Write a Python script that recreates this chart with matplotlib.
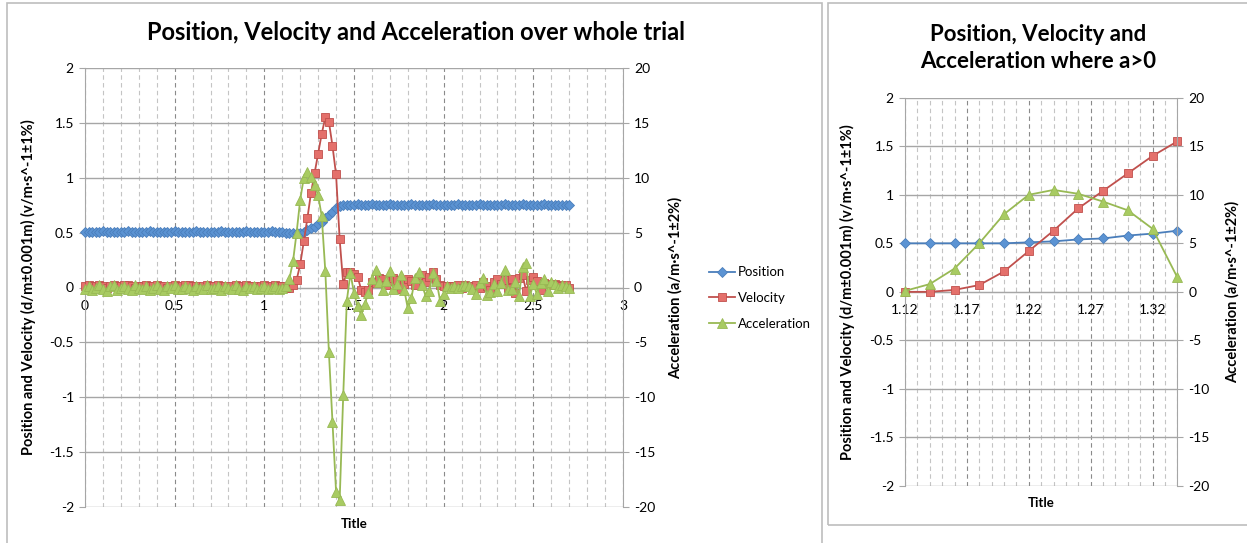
import numpy as np
import matplotlib
matplotlib.use("Agg")
from matplotlib import pyplot as plt
from matplotlib.ticker import FixedLocator, FuncFormatter
from matplotlib.patches import Rectangle

plt.rcParams['font.family'] = ['Lato', 'DejaVu Sans']
plt.rcParams['axes.unicode_minus'] = False

# sample times, 0.02 s apart
t = np.round(np.arange(136) * 0.02, 2)

# before launch, t = 0 .. 1.10
pos_rest = [0.51, 0.51, 0.505, 0.51, 0.51, 0.515, 0.51, 0.51, 0.505, 0.51,
            0.51, 0.51, 0.515, 0.51, 0.505, 0.51, 0.51, 0.51, 0.515, 0.51,
            0.51, 0.505, 0.51, 0.51, 0.51, 0.515, 0.51, 0.51, 0.505, 0.51,
            0.51, 0.515, 0.51, 0.51, 0.51, 0.505, 0.51, 0.51, 0.515, 0.51,
            0.51, 0.51, 0.505, 0.51, 0.51, 0.515, 0.51, 0.51, 0.51, 0.505,
            0.51, 0.51, 0.515, 0.51, 0.51, 0.51]
vel_rest = [0.01, 0.02, 0.01, 0.01, 0.02, 0.01, 0.00, 0.01, 0.02, 0.01,
            0.01, 0.02, 0.02, 0.01, 0.00, 0.01, 0.01, 0.02, 0.01, 0.01,
            0.02, 0.01, 0.01, 0.00, 0.01, 0.02, 0.01, 0.01, 0.02, 0.02,
            0.01, 0.01, 0.00, 0.01, 0.02, 0.01, 0.01, 0.02, 0.01, 0.01,
            0.00, 0.01, 0.02, 0.01, 0.01, 0.02, 0.01, 0.01, 0.00, 0.01,
            0.02, 0.01, 0.01, 0.02, 0.01, 0.01]
acc_rest = [-0.1, 0.1, -0.2, 0.0, 0.2, -0.1, -0.3, 0.1, 0.2, -0.2,
            0.0, 0.1, -0.1, -0.2, 0.2, 0.0, -0.1, 0.1, -0.2, 0.0,
            0.2, -0.1, -0.2, 0.1, 0.0, 0.2, -0.1, -0.1, 0.1, 0.0,
            -0.2, 0.1, 0.0, -0.1, 0.2, -0.1, 0.0, 0.1, -0.2, 0.1,
            0.0, -0.1, 0.2, -0.1, -0.2, 0.1, 0.0, 0.1, -0.1, 0.0,
            0.1, -0.1, 0.0, 0.1, -0.1, 0.0]

# the push, t = 1.12 .. 1.44
pos_push = [0.50, 0.50, 0.50, 0.50, 0.50, 0.51, 0.52, 0.54, 0.55, 0.58,
            0.60, 0.63, 0.66, 0.69, 0.72, 0.745, 0.75]
vel_push = [0.00, 0.00, 0.02, 0.07, 0.21, 0.42, 0.63, 0.86, 1.04, 1.22,
            1.40, 1.55, 1.51, 1.29, 1.03, 0.44, 0.03]
acc_push = [0.1, 0.8, 2.4, 5.0, 8.0, 10.0, 10.5, 10.1, 9.3, 8.4,
            6.5, 1.5, -5.9, -12.3, -18.6, -19.4, -9.8]

# after the push, t = 1.46 .. 2.70
pos_after = [0.75, 0.75, 0.755, 0.76, 0.755, 0.75, 0.755, 0.76, 0.755, 0.755,
             0.75, 0.755, 0.76, 0.755, 0.755, 0.75, 0.755, 0.755, 0.76, 0.755,
             0.755, 0.75, 0.755, 0.755, 0.76, 0.755, 0.755, 0.75, 0.755, 0.755,
             0.755, 0.76, 0.755, 0.755, 0.75, 0.755, 0.755, 0.76, 0.755, 0.755,
             0.75, 0.755, 0.755, 0.755, 0.76, 0.755, 0.75, 0.755, 0.755, 0.76,
             0.755, 0.755, 0.75, 0.755, 0.755, 0.76, 0.755, 0.755, 0.755, 0.75,
             0.755, 0.755, 0.755]
vel_after = [0.14, 0.14, 0.12, 0.10, -0.02, -0.04, -0.02, 0.05, 0.04, 0.09,
             0.08, 0.02, 0.06, 0.09, 0.07, -0.01, 0.03, 0.08, 0.06, 0.02,
             0.08, 0.11, 0.05, 0.10, 0.14, 0.08, 0.02, 0.01, 0.01, 0.01,
             0.01, 0.02, 0.00, 0.02, 0.01, 0.01, 0.02, 0.00, 0.05, 0.01,
             -0.02, 0.05, 0.08, 0.03, 0.07, 0.00, 0.08, -0.05, 0.09, 0.11,
             -0.03, 0.07, 0.10, 0.06, -0.02, 0.04, 0.03, 0.02, 0.03, 0.02,
             0.01, 0.02, 0.00]
acc_after = [-1.2, 1.3, -0.5, -1.7, -2.5, -1.5, -0.5, 0.8, 1.6, 0.5,
             -0.2, 0.6, 1.5, -0.1, 0.3, 1.1, -0.2, -1.9, -1.0, 0.9,
             1.4, 0.2, -0.8, -0.3, 1.3, 0.6, -1.2, -0.6, 0.1, 0.0,
             0.1, 0.0, 0.1, 0.2, 0.1, -0.1, -0.6, 0.4, 0.9, -0.7,
             -0.4, 0.3, -0.3, 0.4, 1.6, -0.2, -0.1, 0.5, -0.8, 1.9,
             2.2, -0.8, 0.3, -0.6, 0.4, 0.8, -0.3, 0.5, 0.3, 0.0,
             0.2, 0.1, 0.0]

position = np.array(pos_rest + pos_push + pos_after)
velocity = np.array(vel_rest + vel_push + vel_after)
acceleration = np.array(acc_rest + acc_push + acc_after)

# part where a > 0
sel = (t >= 1.12) & (t <= 1.34)

blue, blue_f = '#4a7ebb', '#5b93d3'
red, red_f = '#c0504d', '#e4706b'
green, green_f = '#98b954', '#a8cb62'
gray = '#a6a6a6'
fmt = FuncFormatter(lambda v, p: '%g' % round(v, 4))


def draw(ax, x, pos, vel, acc, ms):
    ax2 = ax.twinx()
    ax.plot(x, pos, '-', color=blue, lw=1.3, marker='D', ms=ms * 0.85, mfc=blue_f,
            mec=blue, mew=0.6, label='Position', clip_on=False, zorder=3)
    ax.plot(x, vel, '-', color=red, lw=1.3, marker='s', ms=ms, mfc=red_f,
            mec=red, mew=0.6, label='Velocity', clip_on=False, zorder=4)
    ax2.plot(x, acc, '-', color=green, lw=1.3, marker='^', ms=ms * 1.1, mfc=green_f,
             mec=green, mew=0.6, label='Acceleration', clip_on=False, zorder=5)
    ax.set_ylim(-2, 2)
    ax2.set_ylim(-20, 20)
    ax.yaxis.set_major_locator(FixedLocator(np.arange(-2, 2.01, 0.5)))
    ax2.yaxis.set_major_locator(FixedLocator(np.arange(-20, 21, 5)))
    ax.yaxis.set_major_formatter(fmt)
    ax2.yaxis.set_major_formatter(fmt)
    ax.xaxis.set_major_formatter(fmt)
    ax.grid(axis='y', which='major', color=gray, lw=1.0, ls='-')
    ax.grid(axis='x', which='major', color='#8a8a8a', lw=0.8, ls=(0, (4, 3)))
    ax.grid(axis='x', which='minor', color='#c4c4c4', lw=0.8, ls=(0, (4, 3)))
    ax.set_axisbelow(True)
    for s in ['top', 'right']:
        ax.spines[s].set_visible(False)
    for s in ['top', 'bottom', 'left']:
        ax2.spines[s].set_visible(False)
    ax.spines['bottom'].set_position(('data', 0))
    ax.spines['bottom'].set_color(gray)
    ax.spines['left'].set_color(gray)
    ax2.spines['right'].set_color(gray)
    ax.tick_params(axis='x', which='both', length=0, pad=9, labelsize=10)
    ax.tick_params(axis='y', length=4, color=gray, labelsize=10, pad=4)
    ax2.tick_params(axis='y', length=4, color=gray, labelsize=10, pad=4)
    ax.set_xlabel('Title', fontsize=9.5, fontweight='bold')
    ax.set_ylabel('Position and Velocity (d/m±0.001m) (v/m·s^-1±1%)',
                  fontsize=10.5, fontweight='bold')
    ax2.set_ylabel('Acceleration (a/m·s^-1±2%)', fontsize=10.5, fontweight='bold')
    return ax2


fig = plt.figure(figsize=(12.47, 5.43), dpi=100)

# panel frames
for x0, y0, x1, y1 in [(7, 3, 822, 545), (828, 3, 1250, 525)]:
    fig.add_artist(Rectangle((x0 / 1247, 1 - y1 / 543), (x1 - x0) / 1247, (y1 - y0) / 543,
                             transform=fig.transFigure, fill=False, ec='#bdbdbd', lw=1.2))

# whole trial
ax = fig.add_axes([85 / 1247, 36 / 543, 538 / 1247, 439 / 543])
ax2 = draw(ax, t, position, velocity, acceleration, 6.3)
ax.set_xlim(0, 3)
ax.xaxis.set_major_locator(FixedLocator(np.arange(0, 3.01, 0.5)))
ax.xaxis.set_minor_locator(FixedLocator(np.arange(0.1, 3.0, 0.1)))
ax.xaxis.set_label_coords(0.5, -0.025)
ax.yaxis.set_label_coords(-0.091, 0.5)
ax2.yaxis.set_label_coords(1.084, 0.5)
fig.text(416 / 1247, 1 - 33 / 543, 'Position, Velocity and Acceleration over whole trial',
         ha='center', va='center', fontsize=17, fontweight='bold')
h1, l1 = ax.get_legend_handles_labels()
h2, l2 = ax2.get_legend_handles_labels()
fig.legend(h1 + h2, l1 + l2, loc='center left', bbox_to_anchor=(697 / 1247, 1 - 298 / 543),
           frameon=False, fontsize=9.5, handlelength=2.0, labelspacing=1.05, handletextpad=0.2)

# where a > 0
bx = fig.add_axes([905 / 1247, 57 / 543, 272.3 / 1247, 388.3 / 543])
bx2 = draw(bx, t[sel], position[sel], velocity[sel], acceleration[sel], 6.3)
bx.set_xlim(1.12, 1.34)
bx.xaxis.set_major_locator(FixedLocator([1.12, 1.17, 1.22, 1.27, 1.32]))
bx.xaxis.set_minor_locator(FixedLocator(np.round(np.arange(1.13, 1.345, 0.01), 2)))
bx.xaxis.set_label_coords(0.5, -0.028)
bx.yaxis.set_label_coords(-0.184, 0.5)
bx2.yaxis.set_label_coords(1.175, 0.5)
fig.text(1038 / 1247, 1 - 48 / 543, 'Position, Velocity and\nAcceleration where a>0',
         ha='center', va='center', fontsize=16, fontweight='bold', linespacing=1.35)

fig.savefig('out.png', dpi=100)
